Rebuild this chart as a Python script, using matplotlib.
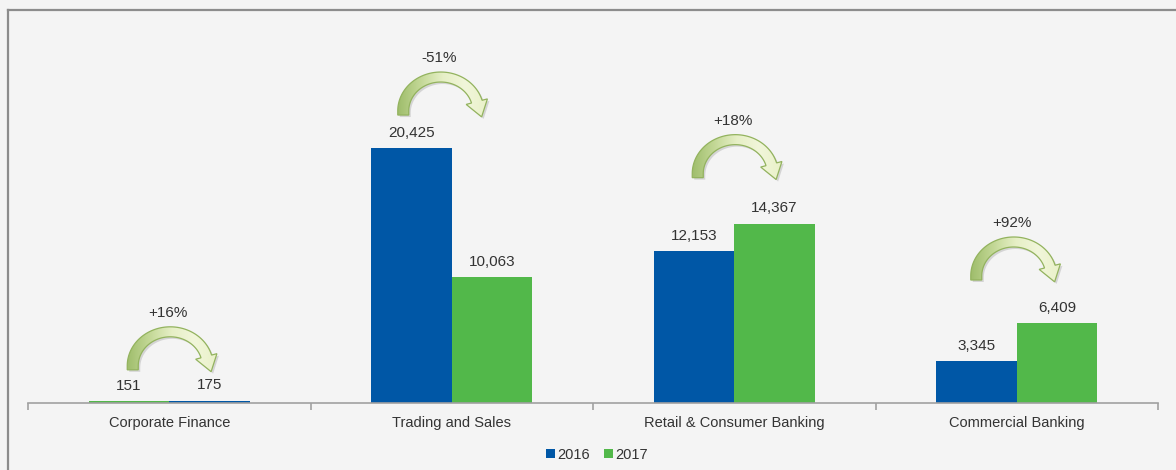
import matplotlib
matplotlib.use("Agg")
import matplotlib.pyplot as plt
from matplotlib.patches import Patch, PathPatch
from matplotlib.path import Path
from matplotlib.lines import Line2D
from matplotlib.colors import LinearSegmentedColormap
import numpy as np

# Data
categories = ["Corporate Finance", "Trading and Sales",
              "Retail & Consumer Banking", "Commercial Banking"]
left_values = [151, 20425, 12153, 3345]
right_values = [175, 10063, 14367, 6409]
series_labels = ["2016", "2017"]

BLUE = "#0057A6"
GREEN = "#52B84A"
left_colors = [GREEN, BLUE, BLUE, BLUE]
right_colors = [BLUE, GREEN, GREEN, GREEN]

# arrow placement (pixels): horizontal shift and lift above the taller bar
arrow_dx = [1, -11, 1, -3]
arrow_lift = [31, 33, 46, 43]

plt.rcParams["font.family"] = ["Liberation Sans", "DejaVu Sans"]
TEXT = "#333333"

fig = plt.figure(figsize=(11.76, 4.70), dpi=100, facecolor="#f4f4f4")
W, H = 1176, 470
ax = fig.add_axes([28 / W, (H - 403) / H, (1158 - 28) / W, (403 - 31) / H])
ax.set_facecolor("none")

x = np.arange(len(categories))
bw = 0.285
ax.bar(x - bw / 2, left_values, bw, color=left_colors, zorder=2)
ax.bar(x + bw / 2, right_values, bw, color=right_colors, zorder=2)

XLIM = (-0.5, len(categories) - 0.5)
YLIM = (0, 29800)
ax.set_xlim(*XLIM)
ax.set_ylim(*YLIM)

# value labels
for xi, lv, rv in zip(x, left_values, right_values):
    for xx, v in ((xi - bw / 2, lv), (xi + bw / 2, rv)):
        ax.annotate(f"{v:,}", (xx, v), xytext=(0, 6), textcoords="offset points",
                    ha="center", va="bottom", fontsize=11, color=TEXT)


def arrow_shape():
    """Curved arrow outline in pixel units, origin at the bottom of the arc."""
    cy = 4.0
    ao, bo = 43.0, 39.0
    ai, bi = 32.0, 29.0
    t_end = np.deg2rad(16)
    t = np.linspace(np.pi, t_end, 90)
    outer = np.c_[ao * np.cos(t), cy + bo * np.sin(t)]
    inner = np.c_[ai * np.cos(t[::-1]), cy + bi * np.sin(t[::-1])]
    po, pi_ = outer[-1], inner[0]
    d = (po - pi_) / np.linalg.norm(po - pi_)
    mid = (po + pi_) / 2
    tang = np.array([ao * np.sin(t_end), -bo * np.cos(t_end)])
    tang /= np.linalg.norm(tang)
    head = [po + d * 5.5, mid + tang * 16, pi_ - d * 5.5]
    verts = np.vstack([[[-ao, 0.0]], outer, [po], head, [pi_], inner,
                       [[-ai, 0.0]], [[-ao, 0.0]]])
    return verts


cmap = LinearSegmentedColormap.from_list(
    "arrowfill", ["#9fbd6c", "#c3d896", "#e6efc6", "#f1f6da", "#e9f1c8"])
shape = arrow_shape()
inv = ax.transData.inverted()

for i, (xi, lv, rv) in enumerate(zip(x, left_values, right_values)):
    top = max(lv, rv)
    ax_px, ay_px = ax.transData.transform((xi, top))
    anchor = np.array([ax_px + arrow_dx[i], ay_px + arrow_lift[i]])
    pts = inv.transform(anchor + shape)
    shadow = inv.transform(anchor + shape + np.array([2.0, -2.0]))
    ax.add_patch(PathPatch(Path(shadow, closed=True), facecolor="#9a9a9a",
                           edgecolor="none", alpha=0.35, zorder=3))
    body = PathPatch(Path(pts, closed=True), facecolor="none",
                     edgecolor="#93b35e", lw=0.9, zorder=5)
    ax.add_patch(body)
    grad = np.linspace(0, 1, 256)[None, :]
    img = ax.imshow(grad, cmap=cmap, aspect="auto", zorder=4,
                    extent=[pts[:, 0].min(), pts[:, 0].max(),
                            pts[:, 1].min(), pts[:, 1].max()],
                    interpolation="bilinear")
    img.set_clip_path(body)
    pct = (rv / lv - 1) * 100
    ax.annotate(f"{pct:+.0f}%", (xi, top),
                xytext=(arrow_dx[i] - 2, arrow_lift[i] + 57),
                textcoords="offset pixels", ha="center", va="center",
                fontsize=11, color=TEXT)

ax.set_xlim(*XLIM)
ax.set_ylim(*YLIM)

# axes styling
for s in ("top", "right", "left"):
    ax.spines[s].set_visible(False)
ax.spines["bottom"].set_color("#a0a0a0")
ax.spines["bottom"].set_linewidth(1.2)
ax.set_yticks([])
ax.set_xticks(x)
ax.set_xticklabels(categories, fontsize=10.5, color=TEXT)
ax.tick_params(axis="x", which="major", length=0, pad=9)
ax.set_xticks(np.arange(-0.5, len(categories)), minor=True)
ax.tick_params(axis="x", which="minor", length=5, color="#a0a0a0", width=1.2)

# legend
handles = [Patch(facecolor=BLUE), Patch(facecolor=GREEN)]
fig.legend(handles, series_labels, loc="center", bbox_to_anchor=(597 / W, 15 / H),
           ncol=2, frameon=False, fontsize=10.5, handlelength=0.6, handleheight=0.6,
           handletextpad=0.15, columnspacing=1.0, labelcolor=TEXT)

# outer frame
fig.add_artist(Line2D([8 / W, 1], [1 - 10 / H, 1 - 10 / H], color="#8c8c8c", lw=1.6))
fig.add_artist(Line2D([8 / W, 8 / W], [0, 1 - 10 / H], color="#8c8c8c", lw=1.6))

fig.savefig("out.png", dpi=100, facecolor=fig.get_facecolor())
